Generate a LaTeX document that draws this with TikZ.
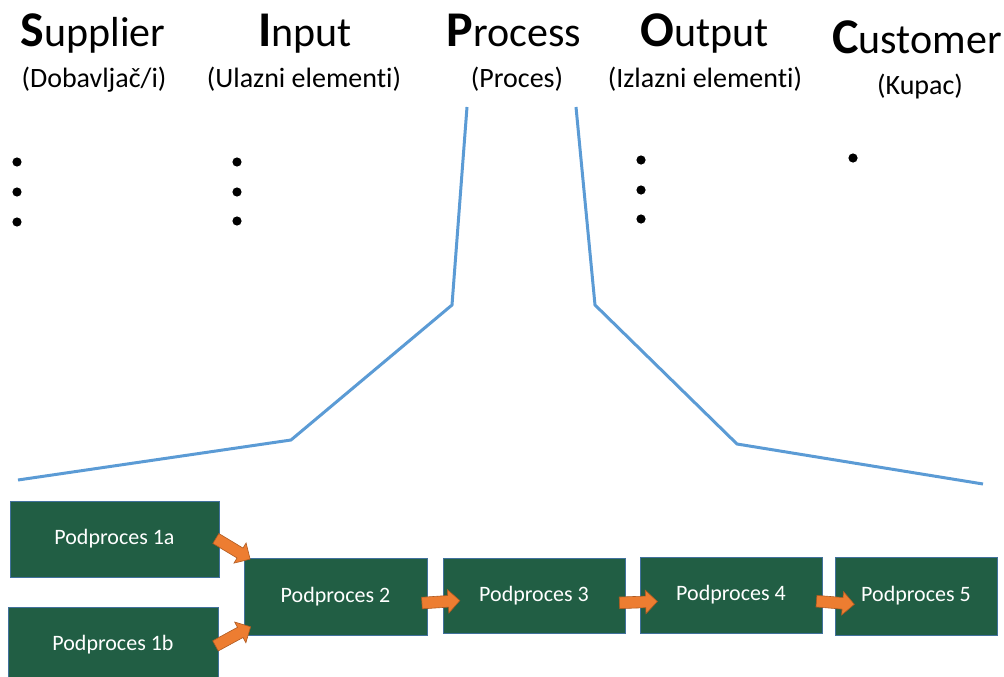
\documentclass[tikz,border=0pt]{standalone}
\usepackage{fontspec}
\setmainfont{Carlito}[Ligatures=NoCommon]
\usetikzlibrary{shapes.arrows}
\definecolor{boxgreen}{HTML}{215E44}
\definecolor{boxedge}{HTML}{41719C}
\definecolor{arrowfill}{HTML}{ED7D31}
\definecolor{arrowedge}{HTML}{AE5A21}
\definecolor{linkblue}{HTML}{5B9BD5}
\begin{document}
\begin{tikzpicture}[x=1pt,y=-1pt,
  subbox/.style={draw=boxedge, line width=0.8pt, fill=boxgreen, text=white,
    font=\fontsize{22}{22}\selectfont, inner sep=0pt},
  flowarrow/.style={single arrow, fill=arrowfill, draw=arrowedge, line width=0.6pt,
    minimum height=38pt, inner xsep=0pt, inner ysep=5.5pt,
    single arrow head extend=6pt, single arrow head indent=0pt, sloped, midway},
  headtxt/.style={anchor=base, font=\fontsize{42}{42}\selectfont, inner sep=0pt},
  subtxt/.style={anchor=base, font=\fontsize{28}{28}\selectfont, inner sep=0pt},
  bulletdot/.style={fill=black},
  funnel/.style={draw=linkblue, line width=3pt}
]
\useasboundingbox (0,0) rectangle (1004,677);
\clip (0,0) rectangle (1004,677);

% headers
\node[headtxt] (hS) at (93,47) {\textbf{\fontsize{50}{50}\selectfont S}upplier};
\node[subtxt] (sS) at (94,88) {(Dobavljač/i)};
\node[headtxt] (hI) at (305,47) {\textbf{\fontsize{50}{50}\selectfont I}nput};
\node[subtxt] (sI) at (304,88) {(Ulazni elementi)};
\node[headtxt] (hP) at (514,47) {\textbf{\fontsize{50}{50}\selectfont P}rocess};
\node[subtxt] (sP) at (517,88) {(Proces)};
\node[headtxt] (hO) at (705,47) {\textbf{\fontsize{50}{50}\selectfont O}utput};
\node[subtxt] (sO) at (705,88) {(Izlazni elementi)};
\node[headtxt] (hC) at (917,54) {\textbf{\fontsize{50}{50}\selectfont C}ustomer};
\node[subtxt] (sC) at (920,95) {(Kupac)};

% bullets
\foreach \y in {162,192,222} \fill[bulletdot] (17,\y) circle (4.6);
\foreach \y in {162,192,221} \fill[bulletdot] (237,\y) circle (4.6);
\foreach \y in {160,190,219} \fill[bulletdot] (641,\y) circle (4.6);
\fill[bulletdot] (853,158) circle (4.6);

% funnel lines
\draw[funnel] (467,107) -- (452,305) -- (291,440) -- (18,480);
\draw[funnel] (576,107) -- (595,305) -- (737,444) -- (983,484);

% boxes
\node[subbox, minimum width=209pt, minimum height=76pt] (p1a) at (114.5,539) {Podproces 1a};
\node[subbox, minimum width=210pt, minimum height=76pt] (p1b) at (113,645) {Podproces 1b};
\node[subbox, minimum width=183pt, minimum height=77pt] (p2) at (335.5,596.5) {Podproces 2};
\node[subbox, minimum width=182pt, minimum height=75pt] (p3) at (534,595.5) {Podproces 3};
\node[subbox, minimum width=182pt, minimum height=76pt] (p4) at (731,595) {Podproces 4};
\node[subbox, minimum width=162pt, minimum height=78pt] (p5) at (916,596) {Podproces 5};

% arrows
\path ([shift={(-6pt,2pt)}]p1a.east) -- ([shift={(4pt,0pt)}]p2.north west)
  node[flowarrow, minimum height=40pt] {};
\path ([shift={(-5pt,-2pt)}]p1b.east) -- ([shift={(4pt,7pt)}]p2.south west)
  node[flowarrow, minimum height=40pt] {};
\path ([shift={(3pt,-6pt)}]p2.east) -- ([shift={(3pt,-6pt)}]p3.west) node[flowarrow] {};
\path ([shift={(3pt,-7pt)}]p3.east) -- ([shift={(3pt,-7pt)}]p4.west) node[flowarrow] {};
\path ([shift={(4pt,-7pt)}]p4.east) -- ([shift={(4pt,-7pt)}]p5.west) node[flowarrow] {};
\end{tikzpicture}
\end{document}
